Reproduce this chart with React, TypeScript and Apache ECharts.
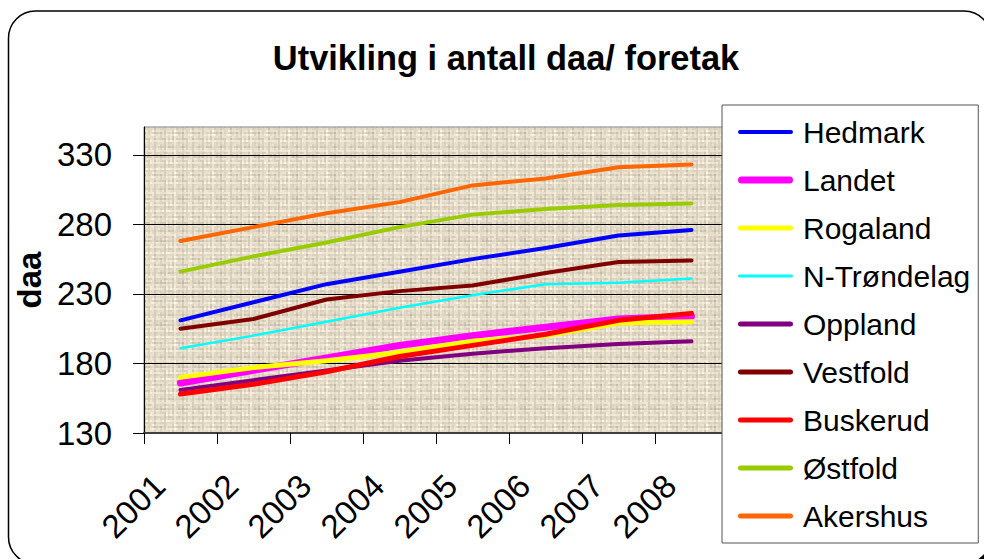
import { useEffect, useRef } from "react";
import * as echarts from "echarts";

const years = ["2001", "2002", "2003", "2004", "2005", "2006", "2007", "2008"];
const hedmark = [211, 224, 237, 246, 255, 263, 272, 276];
const landet = [166, 175, 184, 193, 200, 206, 212, 214];
const rogaland = [170, 177, 182, 188, 196, 200, 209, 210];
const nTrondelag = [191, 200, 210, 220, 229, 237, 238, 241];
const oppland = [161, 168, 175, 182, 187, 191, 194, 196];
const vestfold = [205, 212, 226, 232, 236, 245, 253, 254];
const buskerud = [158, 165, 174, 185, 193, 201, 211, 216];
const ostfold = [246, 257, 267, 278, 287, 291, 294, 295];
const akershus = [268, 278, 288, 296, 308, 313, 321, 323];
const yTicks = [130, 180, 230, 280, 330];

const FONT = 'Arial, "Liberation Sans", sans-serif';

const seriesDefs = [
  { name: "Hedmark", data: hedmark, color: "#0000FF", width: 4, legendW: 4 },
  { name: "Landet", data: landet, color: "#FF00FF", width: 7, legendW: 7 },
  { name: "Rogaland", data: rogaland, color: "#FFFF00", width: 5, legendW: 5 },
  { name: "N-Trøndelag", data: nTrondelag, color: "#00FFFF", width: 2.5, legendW: 3 },
  { name: "Oppland", data: oppland, color: "#800080", width: 4, legendW: 5 },
  { name: "Vestfold", data: vestfold, color: "#800000", width: 4, legendW: 5 },
  { name: "Buskerud", data: buskerud, color: "#FF0000", width: 5, legendW: 5 },
  { name: "Østfold", data: ostfold, color: "#99CC00", width: 4, legendW: 5 },
  { name: "Akershus", data: akershus, color: "#FF6600", width: 4, legendW: 5 },
];

// legend icon: bar of given thickness centred in a 55x14 box
function legendIcon(th: number) {
  const top = (14 - th) / 2;
  const r = th / 2;
  return (
    "path://M0,0L55,0L55,0.01ZM0,14L55,14L55,13.99Z" +
    `M${r},${top}L${55 - r},${top}A${r},${r},0,0,1,${55 - r},${top + th}L${r},${top + th}A${r},${r},0,0,1,${r},${top}Z`
  );
}

// woven paper texture tile for the plot area
function makeTexture(): HTMLCanvasElement {
  const rows = [14, -4, 6, -10, 10, 2, -8, 12, -2, 8, -12, 4, 10, -6, 0, -14, 6, -2, 12, -8, 4];
  const cols = [8, -10, 4, 12, -6, 2, -12, 10, -2, 6, -8, 14, 0, -4, 10, -14, 4, -6, 8];
  const h = rows.length;
  const w = cols.length;
  const scale = 2;
  const c = document.createElement("canvas");
  c.width = w * scale;
  c.height = h * scale;
  const ctx = c.getContext("2d");
  if (!ctx) return c;
  for (let y = 0; y < h; y++) {
    for (let x = 0; x < w; x++) {
      const speck = (((x * 37 + y * 71 + x * y * 13) % 11) - 5) * 2;
      const d = rows[y] + cols[x] + speck;
      const r = Math.max(0, Math.min(255, 225 + d));
      const g = Math.max(0, Math.min(255, 216 + d));
      const b = Math.max(0, Math.min(255, 197 + d));
      ctx.fillStyle = `rgb(${r},${g},${b})`;
      ctx.fillRect(x * scale, y * scale, scale, scale);
    }
  }
  return c;
}

export default function App() {
  const ref = useRef<HTMLDivElement>(null);
  useEffect(() => {
    if (!ref.current) return;
    const chart = echarts.init(ref.current, undefined, { renderer: "svg" });
    const tex = makeTexture();
    chart.setOption({
      animation: false,
      backgroundColor: "#ffffff",
      title: {
        text: "Utvikling i antall daa/ foretak",
        left: 501,
        top: 36,
        textAlign: "center",
        textStyle: { fontFamily: FONT, fontSize: 34.4, fontWeight: "bold", color: "#000" },
      },
      graphic: [
        {
          type: "rect",
          z: -100,
          shape: { x: 8.5, y: 11, width: 982.5, height: 553, r: 27 },
          style: {
            fill: "#ffffff",
            stroke: "#000000",
            lineWidth: 1.5,
            shadowColor: "#000000",
            shadowOffsetX: 3,
            shadowOffsetY: 3,
            shadowBlur: 0,
          },
        },
      ],
      legend: {
        orient: "vertical",
        left: 722,
        top: 105,
        padding: [12, 8, 12, 16],
        itemWidth: 55,
        itemHeight: 14,
        itemGap: 18,
        backgroundColor: "#ffffff",
        borderColor: "#555555",
        borderWidth: 1,
        itemStyle: { borderWidth: 0 },
        textStyle: { fontFamily: FONT, fontSize: 30, color: "#000", padding: [0, 0, 0, 5] },
        data: seriesDefs.map((s) => ({ name: s.name, icon: legendIcon(s.legendW) })),
      },
      grid: {
        left: 144,
        top: 127,
        width: 584,
        height: 306,
        show: true,
        backgroundColor: {
          image: tex,
          repeat: "repeat",
          imageWidth: tex.width,
          imageHeight: tex.height,
        },
        borderColor: "#808080",
        borderWidth: 1,
        containLabel: false,
      },
      xAxis: {
        type: "category",
        data: years,
        boundaryGap: true,
        axisLine: { show: true, lineStyle: { color: "#404040", width: 2 } },
        axisTick: { show: true, length: 11, lineStyle: { color: "#000", width: 1 } },
        axisLabel: {
          interval: 0,
          rotate: 45,
          margin: 26,
          padding: [0, 30, 0, 0],
          fontFamily: FONT,
          fontSize: 33,
          color: "#000",
          hideOverlap: false,
        },
        splitLine: { show: false },
      },
      yAxis: {
        type: "value",
        min: 130,
        max: 350,
        interval: 50,
        name: "daa",
        nameLocation: "middle",
        nameGap: 84,
        nameTextStyle: { fontFamily: FONT, fontSize: 33, fontWeight: "bold", color: "#000" },
        axisLine: { show: true, lineStyle: { color: "#000", width: 1 } },
        axisTick: { show: true, length: 11, customValues: yTicks, lineStyle: { color: "#000" } },
        axisLabel: {
          customValues: yTicks,
          margin: 32,
          fontFamily: FONT,
          fontSize: 33,
          color: "#000",
        },
        splitLine: {
          show: true,
          lineStyle: { color: ["#000", "#000", "#000", "#000", "#000", "#808080"], width: 1 },
        },
      },
      series: seriesDefs.map((s) => ({
        name: s.name,
        type: "line",
        data: s.data,
        symbol: "none",
        showSymbol: false,
        smooth: false,
        color: s.color,
        lineStyle: { color: s.color, width: s.width, cap: "round", join: "round" },
      })),
    });
    return () => chart.dispose();
  }, []);
  return (
    <div
      ref={ref}
      style={{ position: "fixed", left: 0, top: 0, width: 984, height: 559, background: "#fff" }}
    />
  );
}
